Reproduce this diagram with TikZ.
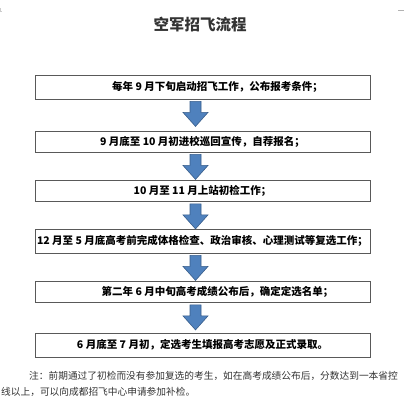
\documentclass[tikz,border=0pt]{standalone}
\usepackage{fontspec}
\newfontfamily\cjk{Noto Sans CJK SC}
\definecolor{arrowblue}{HTML}{4F81BD}
\definecolor{arrowedge}{HTML}{385D8A}
\begin{document}
\begin{tikzpicture}[x=1pt,y=-1pt,
    stepbox/.style = {draw=black!65,line width=0.8pt,minimum width=335pt,
        inner sep=0pt,font=\cjk\bfseries\fontsize{10.5}{12}\selectfont},
    downarrow/.style = {draw=arrowedge,fill=arrowblue,line width=0.6pt,line join=miter},
    notetext/.style = {anchor=west,text=black!80,inner sep=0pt,
        font=\cjk\fontsize{9.7}{12}\selectfont}]
    \useasboundingbox (0,0) rectangle (404,400);
    \draw[black!20] (0,8) -- (0,11) (0,11) -- (2,11);
    \draw[black!30] (398,10) -- (404,10);

    \node[font=\cjk\bfseries\fontsize{15.5}{18}\selectfont,text=black!80] (title) at (200,25) {空军招飞流程};

    \node[stepbox,minimum height=24pt] (b1) at (202.5,87)
        {\hspace*{30pt}每年 9 月下旬启动招飞工作，公布报考条件；};
    \node[stepbox,minimum height=21pt] (b2) at (202.5,141.5)
        {9 月底至 10 月初进校巡回宣传，自荐报名；};
    \node[stepbox,minimum height=21pt] (b3) at (202.5,191)
        {10 月至 11 月上站初检工作；};
    \node[stepbox,minimum height=24pt] (b4) at (202.5,241)
        {12 月至 5 月底高考前完成体格检查、政治审核、心理测试等复选工作；};
    \node[stepbox,minimum height=21pt] (b5) at (202.5,292)
        {\hspace*{30pt}第二年 6 月中旬高考成绩公布后，确定定选名单；};
    \node[stepbox,minimum height=24pt] (b6) at (202.5,345)
        {6 月底至 7 月初，定选考生填报高考志愿及正式录取。};

    \foreach \from in {b1,b2,b3,b4,b5}
        \draw[downarrow] ([xshift=-12.5pt,yshift=-2pt]\from.south) -- ++(11,0) -- ++(0,11)
            -- ++(7,0) -- ++(-12.5,14) -- ++(-12.5,-14) -- ++(7,0) -- cycle;

    \node[notetext] (n1) at (29,376)
        {注：前期通过了初检而没有参加复选的考生，如在高考成绩公布后，分数达到一本省控};
    \node[notetext] (n2) at (1,392)
        {线以上，可以向成都招飞中心申请参加补检。};
\end{tikzpicture}
\end{document}
